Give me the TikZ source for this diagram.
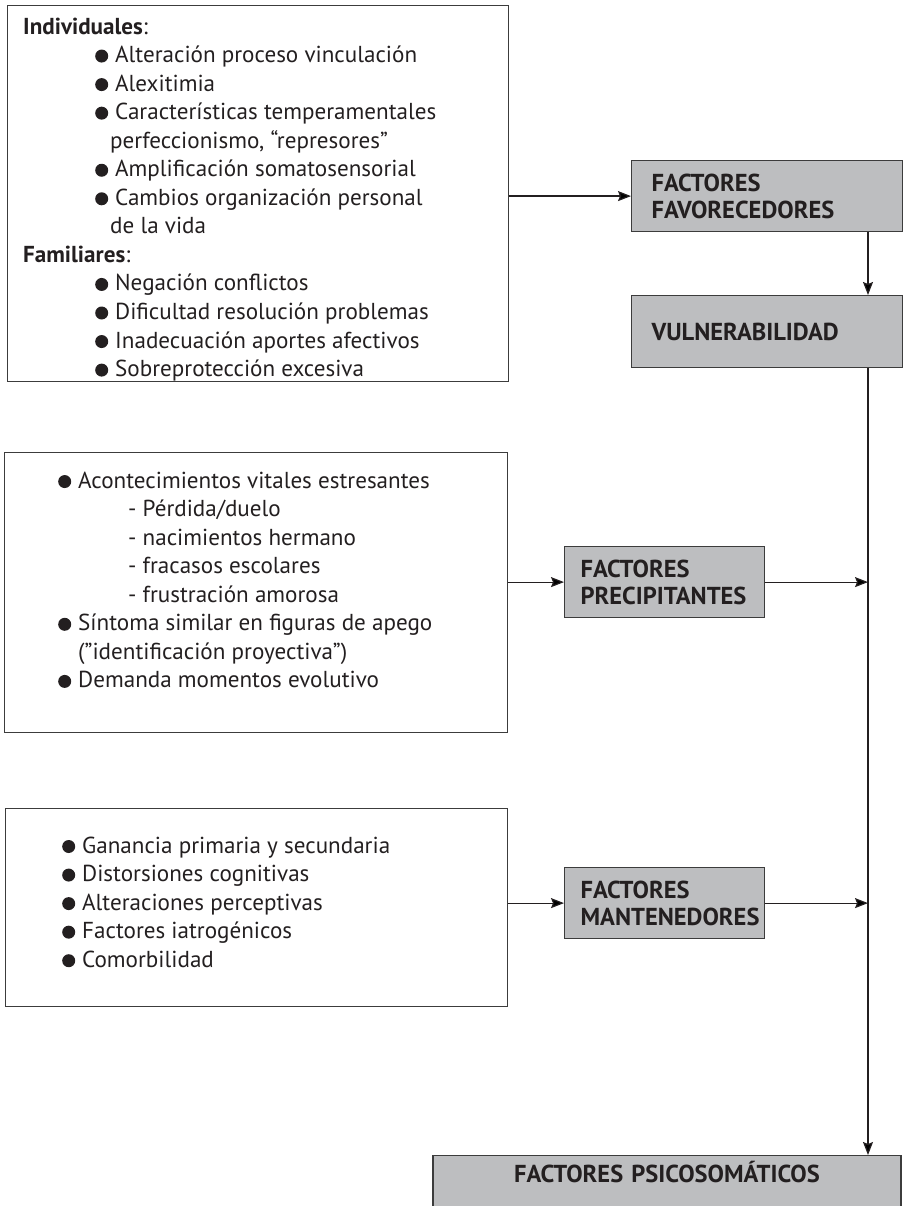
\documentclass[tikz,border=0pt]{standalone}
\usepackage{fontspec}
\setmainfont{PT Sans}
\usetikzlibrary{arrows.meta}
\definecolor{ink}{HTML}{231F20}
\definecolor{boxgray}{HTML}{BDBEC0}
\definecolor{edge}{HTML}{3C3C3C}
% round list bullet followed by its gap
\newcommand\bdot{\tikz[x=1pt,y=1pt,baseline=0pt]\fill[ink] (6.5,6.5) circle[radius=6.5];\hspace{7pt}}
\begin{document}
\begin{tikzpicture}[x=1pt,y=-1pt,
  listbox/.style={draw=edge, line width=1.2pt, anchor=north west, inner sep=0pt},
  listtext/.style={anchor=base west, align=left, inner sep=0pt, text=ink,
    font=\fontsize{23.1}{28.55}\selectfont},
  factor/.style={draw=edge, fill=boxgray, line width=1.2pt, anchor=north west,
    align=left, inner ysep=0pt, text=ink, font=\fontsize{24.5}{27}\selectfont\bfseries},
  conn/.style={draw=ink, line width=1.2pt, -{Stealth[length=13pt,width=10pt,inset=2pt]}}
]
\useasboundingbox (0,0) rectangle (903,1206);

% left-hand lists (each text block is placed by the baseline of its last line)
\node[listbox, minimum width=501pt, minimum height=376pt] (indiv) at (7,5) {};
\node[listtext] (indivtxt) at (23,376.6) {%
{\bfseries Individuales}:\\
\hspace*{72pt}\bdot Alteración proceso vinculación\\
\hspace*{72pt}\bdot Alexitimia\\
\hspace*{72pt}\bdot Características temperamentales\\
\hspace*{87pt}perfeccionismo, “represores”\\
\hspace*{72pt}\bdot Amplificación somatosensorial\\
\hspace*{72pt}\bdot Cambios organización personal\\
\hspace*{87pt}de la vida\\
{\bfseries Familiares}:\\
\hspace*{72pt}\bdot Negación conflictos\\
\hspace*{72pt}\bdot Dificultad resolución problemas\\
\hspace*{72pt}\bdot Inadecuación aportes afectivos\\
\hspace*{72pt}\bdot Sobreprotección excesiva};

\node[listbox, minimum width=503pt, minimum height=280pt] (precl) at (4,452) {};
\node[listtext] (precltxt) at (58,687.9) {%
\bdot Acontecimientos vitales estresantes\\
\hspace*{70pt}- Pérdida/duelo\\
\hspace*{70pt}- nacimientos hermano\\
\hspace*{70pt}- fracasos escolares\\
\hspace*{70pt}- frustración amorosa\\
\bdot Síntoma similar en figuras de apego\\
\hspace*{20pt}("identificación proyectiva”)\\
\bdot Demanda momentos evolutivo};

\node[listbox, minimum width=502pt, minimum height=198pt] (mantl) at (5,808) {};
\node[listtext] (mantltxt) at (62,967.2) {%
\bdot Ganancia primaria y secundaria\\
\bdot Distorsiones cognitivas\\
\bdot Alteraciones perceptivas\\
\bdot Factores iatrogénicos\\
\bdot Comorbilidad};

% grey factor boxes
\node[factor, minimum height=71pt, inner xsep=20pt, text width=231pt] (fav) at (631,160)
  {FACTORES\\FAVORECEDORES};
\node[factor, minimum height=72pt, inner xsep=20pt, text width=231pt] (vul) at (631,295)
  {VULNERABILIDAD};
\node[factor, minimum height=71pt, inner xsep=16pt, text width=168pt] (prec) at (564,546)
  {FACTORES\\PRECIPITANTES};
\node[factor, minimum height=71pt, inner xsep=16pt, text width=168pt] (mant) at (564,867)
  {FACTORES\\MANTENEDORES};
\node[factor, anchor=north, align=center, inner xsep=0pt, text width=468pt,
  text height=27pt, text depth=50pt] (psi) at (667,1155) {FACTORES PSICOSOMÁTICOS};

% connectors
\coordinate (spine) at (868,0);
\draw[conn] (indiv.east |- fav.west) -- (fav.west);
\draw[conn] (fav.south -| spine) -- (vul.north -| spine);
\draw[conn] (vul.south -| spine) -- (psi.north -| spine);
\draw[conn] (precl.east |- prec.west) -- (prec.west);
\draw[conn] (prec.east) -- (prec.east -| spine);
\draw[conn] (mantl.east |- mant.west) -- (mant.west);
\draw[conn] (mant.east) -- (mant.east -| spine);
\end{tikzpicture}
\end{document}
